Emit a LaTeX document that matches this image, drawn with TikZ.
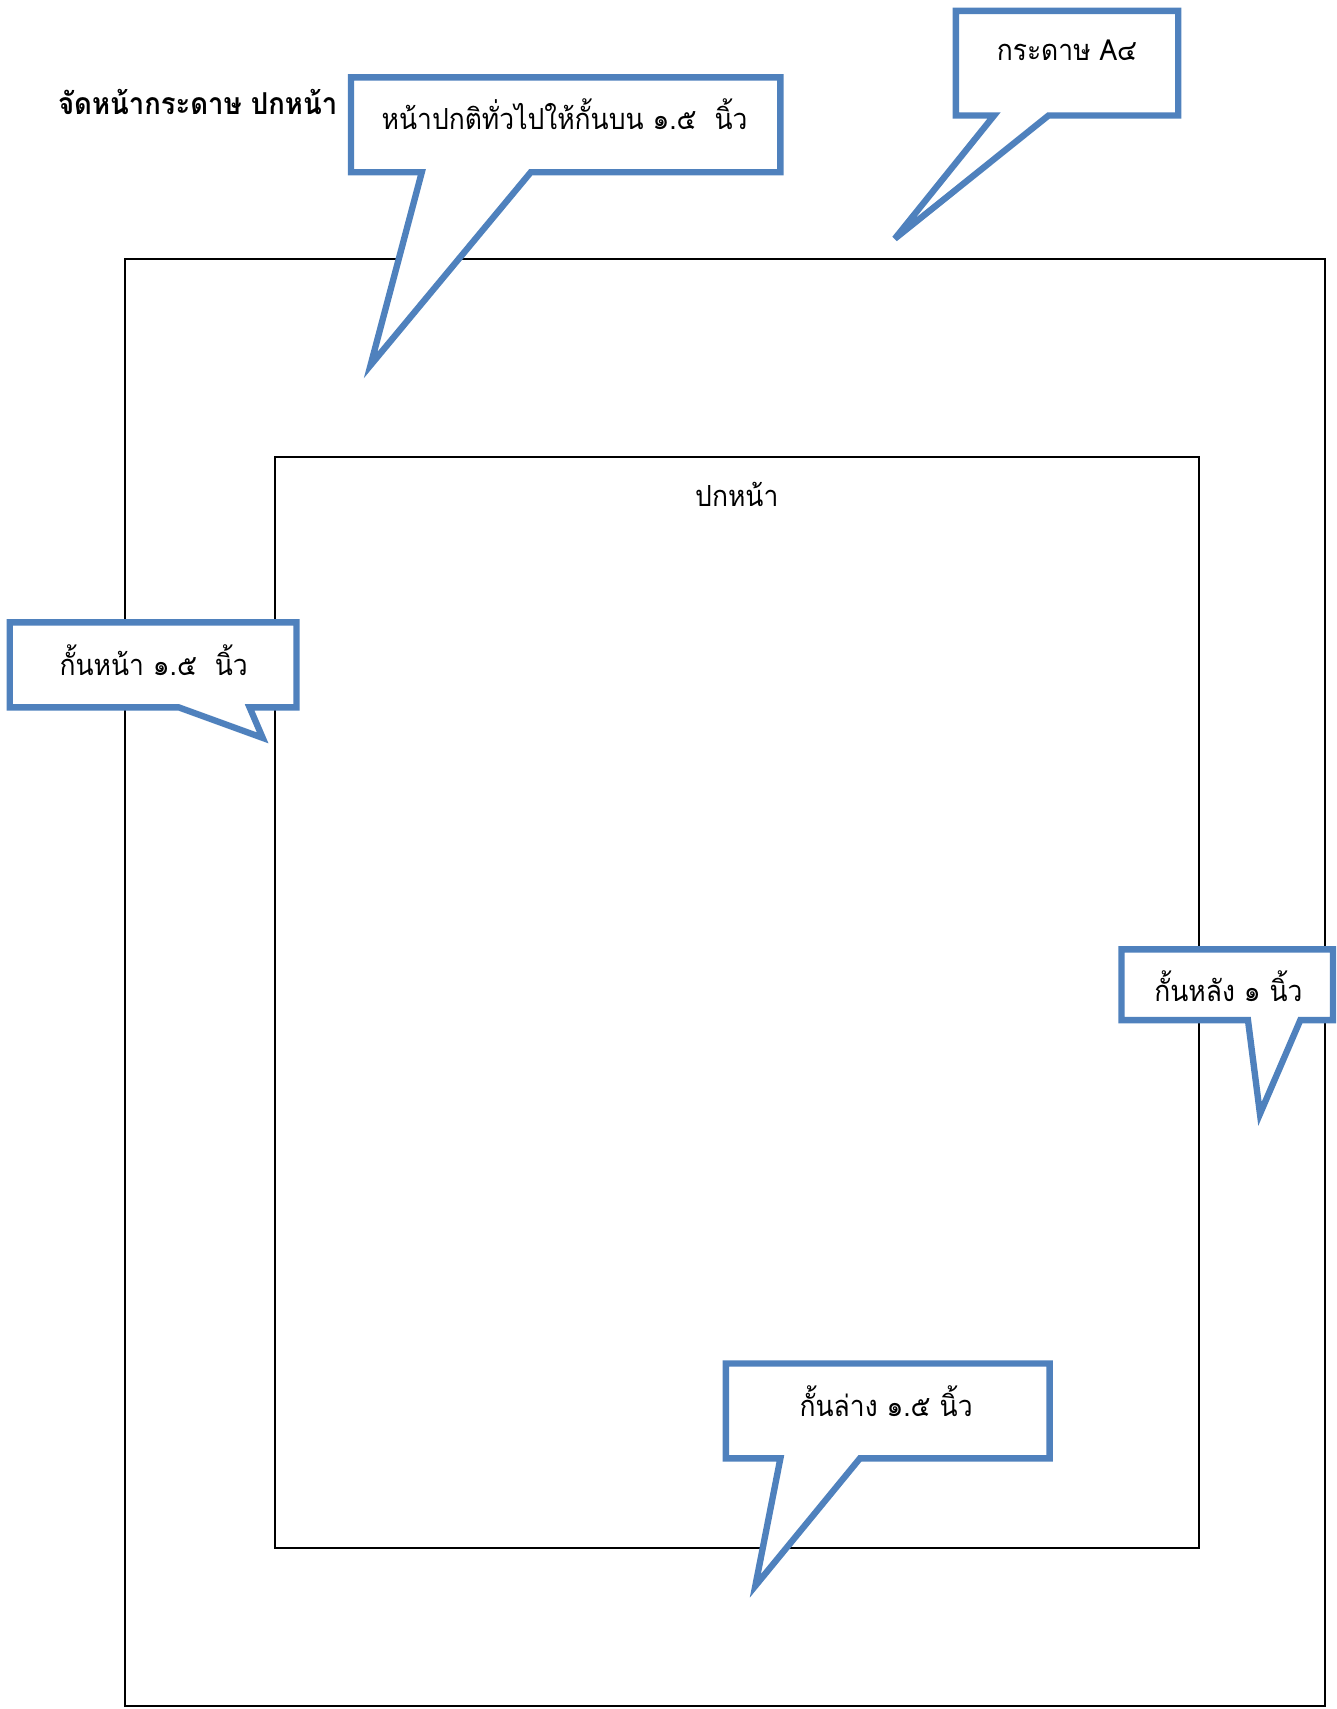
\documentclass[tikz,border=0pt]{standalone}
\usepackage{fontspec}
\usepackage{tikz}
\newfontfamily\thaifont[Script=Thai,FakeStretch=0.91]{Loma}
\definecolor{callblue}{RGB}{79,129,189}
\newcommand{\drawthin}{\draw[line width=1pt]}
\newcommand{\drawcallout}{\filldraw[draw=callblue,fill=white,line width=3.5pt,line join=miter,miter limit=8]}
\tikzset{thaitext/.style={font=\thaifont\fontsize{16}{19}\selectfont,inner sep=0pt}}

\begin{document}
\begin{tikzpicture}[x=0.6pt,y=-0.6pt]
\useasboundingbox (0,0) rectangle (1226,1568);
% paper and cover page
\drawthin (115,238) rectangle (1216,1565);
\drawthin (252,419) rectangle (1100,1420);
\node[thaitext,font=\thaifont\bfseries\fontsize{16.6}{19}\selectfont,anchor=west] (title) at (53,94) {จัดหน้ากระดาษ ปกหน้า};
\node[thaitext] (cover) at (676,454) {ปกหน้า};
% callouts
\drawcallout (322,71)--(716,71)--(716,158)--(487,158)--(340,335)--(387,158)--(322,158)--cycle;
\drawcallout (877,10)--(1081,10)--(1081,106)--(962,106)--(821,219)--(912,106)--(877,106)--cycle;
\drawcallout (9,571)--(272,571)--(272,649)--(229,649)--(241,677)--(164,649)--(9,649)--cycle;
\drawcallout (1029,871)--(1223,871)--(1223,936)--(1193,936)--(1156,1022)--(1145,936)--(1029,936)--cycle;
\drawcallout (666,1251)--(963,1251)--(963,1338)--(789,1338)--(693,1455)--(716,1338)--(666,1338)--cycle;
\node[thaitext] (top) at (518,105) {หน้าปกติทั่วไปให้กั้นบน ๑.๕~~นิ้ว};
\node[thaitext] (paper) at (979,46) {กระดาษ A๔};
\node[thaitext] (left) at (141,606) {กั้นหน้า ๑.๕~~นิ้ว};
\node[thaitext] (back) at (1127,905) {กั้นหลัง ๑ นิ้ว};
\node[thaitext] (bottom) at (813,1286) {กั้นล่าง ๑.๕ นิ้ว};
\end{tikzpicture}
\end{document}
